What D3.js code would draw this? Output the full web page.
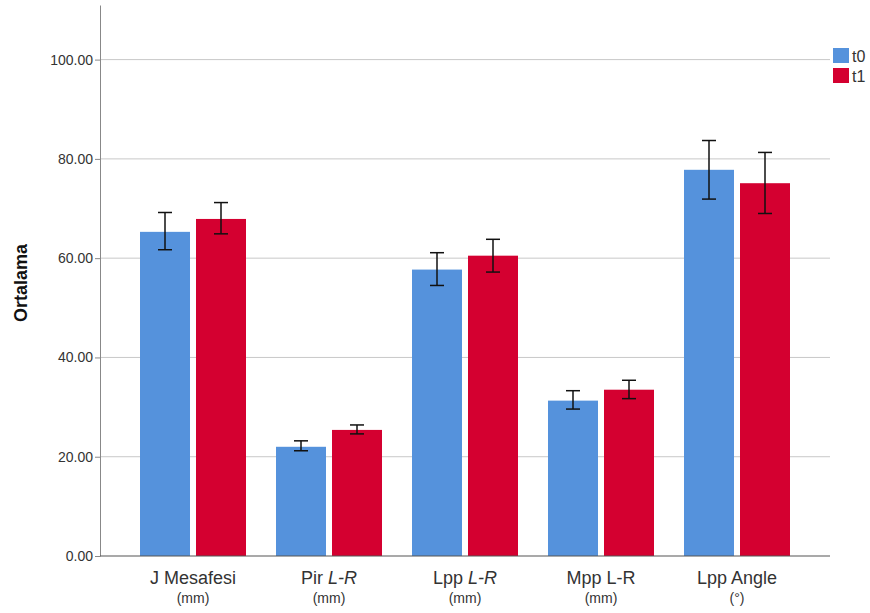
<!DOCTYPE html>
<html>
<head>
<meta charset="utf-8">
<script src="https://cdn.jsdelivr.net/npm/d3@7"></script>
<style>
  body { margin: 0; background: #fff; }
  text { font-family: Arial, "Liberation Sans", sans-serif; }
</style>
</head>
<body>
<div id="chart"></div>
<script>
const categories = ["J Mesafesi", "Pir L-R", "Lpp L-R", "Mpp L-R", "Lpp Angle"]
const units = ["(mm)", "(mm)", "(mm)", "(mm)", "(°)"]
const seriesNames = ["t0", "t1"]
const t0Means = [65.3, 22.0, 57.7, 31.3, 77.8]
const t0Low = [61.7, 21.2, 54.5, 29.6, 71.9]
const t0High = [69.2, 23.2, 61.1, 33.3, 83.7]
const t1Means = [67.9, 25.4, 60.5, 33.5, 75.1]
const t1Low = [64.9, 24.6, 57.2, 31.7, 69.0]
const t1High = [71.2, 26.4, 63.8, 35.4, 81.3]
const yTicks = [0, 20, 40, 60, 80, 100]
const colors = ["#5592dc", "#d40030"]

const svgWidth = 870, svgHeight = 613
const margin = {left: 100, right: 40, top: 5, bottom: 57}
const width = svgWidth - margin.left - margin.right
const height = svgHeight - margin.top - margin.bottom

const rows = categories.map((c, i) => ({
    cat: c,
    unit: units[i],
    vals: [
        {key: "t0", mean: t0Means[i], lo: t0Low[i], hi: t0High[i]},
        {key: "t1", mean: t1Means[i], lo: t1Low[i], hi: t1High[i]}
    ]
}))

let svg = d3.select('#chart')
    .append('svg')
    .attr('width', svgWidth)
    .attr('height', svgHeight)

let chart = svg.append('g')
    .attr("transform", `translate(${margin.left},${margin.top})`)

let yScale = d3.scaleLinear()
    .domain([0, 111])
    .range([height, 0])

let xScale = d3.scaleBand()
    .domain(categories)
    .range([40, 690])
    .paddingInner(30 / 136)
    .paddingOuter(0)

let xSub = d3.scaleBand()
    .domain(seriesNames)
    .range([0, xScale.bandwidth()])
    .paddingInner(6 / 56)

let colorScale = d3.scaleOrdinal().domain(seriesNames).range(colors)

// gridlines
chart.append("g")
    .selectAll("line")
    .data(yTicks.filter(d => d > 0))
    .join("line")
    .attr("x1", 0)
    .attr("x2", width)
    .attr("y1", d => yScale(d))
    .attr("y2", d => yScale(d))
    .attr("stroke", "#c8c8c8")
    .attr("stroke-width", 1)

// y axis
let yAxisGroup = chart.append("g")
    .call(d3.axisLeft(yScale).tickValues(yTicks).tickFormat(d3.format(".2f")).tickSize(5).tickSizeOuter(0))
yAxisGroup.select(".domain").attr("stroke", "#888")
yAxisGroup.selectAll(".tick line").attr("stroke", "#888")
yAxisGroup.selectAll(".tick text")
    .attr("font-size", "14px")
    .attr("fill", "#333")
    .attr("x", -7)

// bars
let groups = chart.append("g")
    .selectAll("g")
    .data(rows)
    .join("g")
    .attr("transform", d => `translate(${xScale(d.cat)},0)`)

groups.selectAll("rect")
    .data(d => d.vals)
    .join("rect")
    .attr("x", d => xSub(d.key))
    .attr("width", xSub.bandwidth())
    .attr("y", d => yScale(d.mean))
    .attr("height", d => yScale(0) - yScale(d.mean))
    .attr("fill", d => colorScale(d.key))

// error bars
let err = groups.selectAll(".err")
    .data(d => d.vals)
    .join("g")
    .attr("class", "err")
    .attr("transform", d => `translate(${xSub(d.key) + xSub.bandwidth() / 2},0)`)

err.append("line")
    .attr("y1", d => yScale(d.lo))
    .attr("y2", d => yScale(d.hi))
    .attr("stroke", "#111")
    .attr("stroke-width", 1.5)

err.selectAll(".cap")
    .data(d => [d.lo, d.hi])
    .join("line")
    .attr("class", "cap")
    .attr("x1", -7)
    .attr("x2", 7)
    .attr("y1", d => yScale(d))
    .attr("y2", d => yScale(d))
    .attr("stroke", "#111")
    .attr("stroke-width", 1.5)

// x axis line
chart.append("line")
    .attr("x1", 0)
    .attr("x2", width)
    .attr("y1", height)
    .attr("y2", height)
    .attr("stroke", "#555")
    .attr("stroke-width", 1.2)

// x labels
let xLabels = chart.append("g")
    .selectAll("g")
    .data(rows)
    .join("g")
    .attr("transform", d => `translate(${xScale(d.cat) + xScale.bandwidth() / 2},${height})`)

let mainLabel = xLabels.append("text")
    .attr("y", 28)
    .attr("text-anchor", "middle")
    .attr("font-size", "18px")
    .attr("fill", "#333")

mainLabel.each(function(d) {
    let t = d3.select(this)
    let parts = d.cat.split(" ")
    if (d.cat.endsWith("L-R") && d.cat != "Mpp L-R") {
        t.append("tspan").text(parts[0] + " ")
        t.append("tspan").attr("font-style", "italic").text(parts[1])
    } else {
        t.text(d.cat)
    }
})

xLabels.append("text")
    .attr("y", 47)
    .attr("text-anchor", "middle")
    .attr("font-size", "14px")
    .attr("fill", "#333")
    .text(d => d.unit)

// y title
svg.append("text")
    .attr("transform", `translate(27,${margin.top + yScale(55)}) rotate(-90)`)
    .attr("text-anchor", "middle")
    .attr("font-size", "18px")
    .attr("font-weight", "bold")
    .attr("fill", "#111")
    .text("Ortalama")

// legend
let legendGroup = svg.append("g")
    .attr("transform", "translate(833,48)")

legendGroup.selectAll("rect")
    .data(seriesNames)
    .join("rect")
    .attr("x", 0)
    .attr("y", (d, i) => i * 20)
    .attr("width", 16)
    .attr("height", 15)
    .attr("fill", d => colorScale(d))

legendGroup.selectAll("text")
    .data(seriesNames)
    .join("text")
    .attr("x", 19)
    .attr("y", (d, i) => i * 20 + 14)
    .attr("font-size", "16px")
    .attr("fill", "#333")
    .text(d => d)
</script>
</body>
</html>
